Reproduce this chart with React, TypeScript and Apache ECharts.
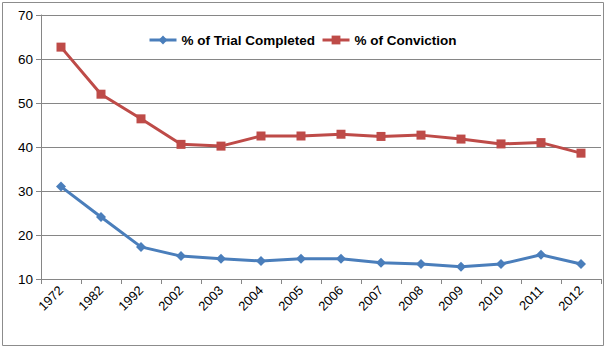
import React, { useEffect, useRef } from "react";
import * as echarts from "echarts";

const categories = ["1972", "1982", "1992", "2002", "2003", "2004", "2005", "2006", "2007", "2008", "2009", "2010", "2011", "2012"];
const trialCompleted = [31.0, 24.1, 17.3, 15.2, 14.6, 14.1, 14.6, 14.6, 13.7, 13.4, 12.8, 13.4, 15.5, 13.4];
const conviction = [62.7, 52.0, 46.4, 40.6, 40.2, 42.5, 42.5, 42.9, 42.4, 42.7, 41.8, 40.7, 41.0, 38.6];
const seriesNames = ["% of Trial Completed", "% of Conviction"];

export default function App() {
  const ref = useRef<HTMLDivElement>(null);
  useEffect(() => {
    document.body.style.margin = "0";
    const chart = echarts.init(ref.current!, undefined, { renderer: "svg" });
    const font = "'Liberation Sans', Arial, sans-serif";
    chart.setOption({
      animation: false,
      backgroundColor: "#ffffff",
      graphic: [
        {
          type: "rect",
          shape: { x: 2.5, y: 2.5, width: 601, height: 343 },
          style: { fill: "none", stroke: "#8c8c8c", lineWidth: 1 },
          silent: true,
        },
      ],
      grid: { left: 41, top: 15, right: 6, bottom: 70, containLabel: false },
      legend: {
        left: 143,
        top: 28,
        itemWidth: 27,
        itemHeight: 11,
        itemGap: 6,
        lineStyle: { width: 3 },
        textStyle: { fontFamily: font, fontSize: 13.5, fontWeight: "bold", color: "#000" },
        data: seriesNames,
      },
      xAxis: {
        type: "category",
        data: categories,
        boundaryGap: true,
        axisLine: { lineStyle: { color: "#868686", width: 1 } },
        axisTick: { show: true, length: 5, lineStyle: { color: "#868686" } },
        axisLabel: { rotate: 45, fontFamily: font, fontSize: 13, color: "#000", margin: 9 },
        splitLine: { show: false },
      },
      yAxis: {
        type: "value",
        min: 10,
        max: 70,
        interval: 10,
        axisLine: { show: true, lineStyle: { color: "#868686", width: 1 } },
        axisTick: { show: true, length: 5, lineStyle: { color: "#868686" } },
        axisLabel: { fontFamily: font, fontSize: 13.5, color: "#000", margin: 8 },
        splitLine: { show: true, lineStyle: { color: "#868686", width: 1 } },
      },
      series: [
        {
          name: seriesNames[0],
          type: "line",
          data: trialCompleted,
          symbol: "diamond",
          symbolSize: 10,
          lineStyle: { color: "#4a7ebb", width: 3 },
          itemStyle: { color: "#4a7ebb" },
        },
        {
          name: seriesNames[1],
          type: "line",
          data: conviction,
          symbol: "rect",
          symbolSize: 9,
          lineStyle: { color: "#be4b48", width: 3 },
          itemStyle: { color: "#be4b48" },
        },
      ],
    });
    return () => chart.dispose();
  }, []);
  return <div ref={ref} style={{ width: 607, height: 349 }} />;
}
